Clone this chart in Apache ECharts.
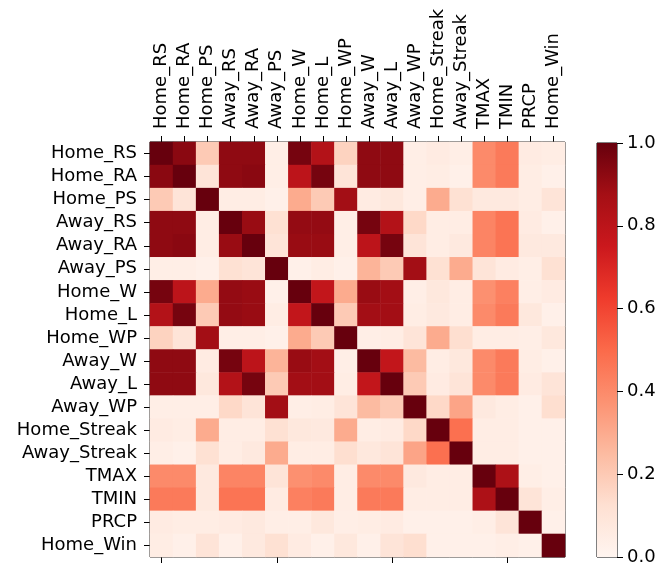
<!DOCTYPE html>
<html>
<head>
<meta charset="utf-8">
<script src="https://cdn.jsdelivr.net/npm/echarts@6/dist/echarts.min.js"></script>
<style>
  html, body { margin: 0; padding: 0; background: #fff; }
  #chart { width: 661px; height: 570px; }
</style>
</head>
<body>
<div id="chart"></div>
<script>
const labels = ['Home_RS', 'Home_RA', 'Home_PS', 'Away_RS', 'Away_RA', 'Away_PS', 'Home_W', 'Home_L', 'Home_WP',
  'Away_W', 'Away_L', 'Away_WP', 'Home_Streak', 'Away_Streak', 'TMAX', 'TMIN', 'PRCP', 'Home_Win']

// correlation rows, same order as labels
const rowHomeRS = [1.00, 0.93, 0.20, 0.92, 0.92, 0.04, 0.97, 0.83, 0.17, 0.92, 0.92, 0.04, 0.06, 0.04, 0.40, 0.45, 0.06, 0.05]
const rowHomeRA = [0.93, 1.00, 0.10, 0.92, 0.93, 0.04, 0.80, 0.97, 0.10, 0.92, 0.92, 0.04, 0.05, 0.03, 0.40, 0.45, 0.05, 0.03]
const rowHomePS = [0.20, 0.10, 1.00, 0.05, 0.05, 0.03, 0.30, 0.20, 0.88, 0.06, 0.08, 0.04, 0.30, 0.12, 0.07, 0.07, 0.05, 0.10]
const rowAwayRS = [0.92, 0.92, 0.05, 1.00, 0.90, 0.12, 0.91, 0.91, 0.04, 0.97, 0.83, 0.15, 0.05, 0.05, 0.42, 0.47, 0.06, 0.03]
const rowAwayRA = [0.92, 0.93, 0.05, 0.90, 1.00, 0.10, 0.90, 0.90, 0.04, 0.80, 0.97, 0.10, 0.05, 0.07, 0.42, 0.47, 0.07, 0.07]
const rowAwayPS = [0.04, 0.04, 0.03, 0.12, 0.10, 1.00, 0.03, 0.05, 0.03, 0.27, 0.20, 0.88, 0.12, 0.30, 0.10, 0.06, 0.04, 0.12]
const rowHomeW = [0.97, 0.80, 0.30, 0.91, 0.90, 0.03, 1.00, 0.78, 0.30, 0.90, 0.88, 0.04, 0.08, 0.05, 0.38, 0.43, 0.04, 0.06]
const rowHomeL = [0.83, 0.97, 0.20, 0.91, 0.90, 0.05, 0.78, 1.00, 0.20, 0.88, 0.88, 0.05, 0.07, 0.05, 0.40, 0.45, 0.08, 0.03]
const rowHomeWP = [0.17, 0.10, 0.88, 0.04, 0.04, 0.03, 0.30, 0.20, 1.00, 0.04, 0.05, 0.10, 0.30, 0.13, 0.05, 0.05, 0.04, 0.08]
const rowAwayW = [0.92, 0.92, 0.06, 0.97, 0.80, 0.27, 0.90, 0.88, 0.04, 1.00, 0.78, 0.25, 0.05, 0.08, 0.40, 0.45, 0.05, 0.03]
const rowAwayL = [0.92, 0.92, 0.08, 0.83, 0.97, 0.20, 0.88, 0.88, 0.05, 0.78, 1.00, 0.20, 0.06, 0.10, 0.40, 0.45, 0.06, 0.10]
const rowAwayWP = [0.04, 0.04, 0.04, 0.15, 0.10, 0.88, 0.04, 0.05, 0.10, 0.25, 0.20, 1.00, 0.15, 0.32, 0.07, 0.05, 0.03, 0.13]
const rowHomeStreak = [0.06, 0.05, 0.30, 0.05, 0.05, 0.12, 0.08, 0.07, 0.30, 0.05, 0.06, 0.15, 1.00, 0.48, 0.05, 0.05, 0.03, 0.03]
const rowAwayStreak = [0.04, 0.03, 0.12, 0.05, 0.07, 0.30, 0.05, 0.05, 0.13, 0.08, 0.10, 0.32, 0.48, 1.00, 0.05, 0.05, 0.03, 0.03]
const rowTMAX = [0.40, 0.40, 0.07, 0.42, 0.42, 0.10, 0.38, 0.40, 0.05, 0.40, 0.40, 0.07, 0.05, 0.05, 1.00, 0.85, 0.04, 0.03]
const rowTMIN = [0.45, 0.45, 0.07, 0.47, 0.47, 0.06, 0.43, 0.45, 0.05, 0.45, 0.45, 0.05, 0.05, 0.05, 0.85, 1.00, 0.10, 0.04]
const rowPRCP = [0.06, 0.05, 0.05, 0.06, 0.07, 0.04, 0.04, 0.08, 0.04, 0.05, 0.06, 0.03, 0.03, 0.03, 0.04, 0.10, 1.00, 0.03]
const rowHomeWin = [0.05, 0.03, 0.10, 0.03, 0.07, 0.12, 0.06, 0.03, 0.08, 0.03, 0.10, 0.13, 0.03, 0.03, 0.03, 0.04, 0.03, 1.00]

const corrRows = [rowHomeRS, rowHomeRA, rowHomePS, rowAwayRS, rowAwayRA, rowAwayPS, rowHomeW, rowHomeL, rowHomeWP,
  rowAwayW, rowAwayL, rowAwayWP, rowHomeStreak, rowAwayStreak, rowTMAX, rowTMIN, rowPRCP, rowHomeWin]

const colorbarTicks = [0, 0.2, 0.4, 0.6, 0.8, 1.0]

// matplotlib 'Reds'
const reds = ['#fff5f0', '#fee0d2', '#fcbba1', '#fc9272', '#fb6a4a', '#ef3b2c', '#cb181d', '#a50f15', '#67000d']

const cells = []
corrRows.forEach((row, y) => {
  row.forEach((v, x) => {
    cells.push([x, y, v])
  })
})

const font = 'DejaVu Sans'
const fs = 18
const tickStyle = { show: true, length: 6, alignWithLabel: true, lineStyle: { color: '#000', width: 1 } }
const chart = echarts.init(document.getElementById('chart'))
chart.setOption({
  backgroundColor: '#fff',
  animation: false,
  textStyle: { fontFamily: font },
  grid: [
    { left: 150, top: 142, width: 415, height: 415, show: true, borderColor: '#000', borderWidth: 1, backgroundColor: 'transparent' },
    { left: 597, top: 143, width: 20, height: 414, show: true, borderColor: '#000', borderWidth: 1, backgroundColor: 'transparent' }
  ],
  xAxis: [
    {
      type: 'category', gridIndex: 0, data: labels, position: 'top',
      axisLine: { show: false },
      axisTick: tickStyle,
      axisLabel: { rotate: -90, fontSize: fs, color: '#000', margin: 13, interval: 0, fontFamily: font },
      splitLine: { show: false }
    },
    {
      type: 'category', gridIndex: 0, data: labels, position: 'bottom',
      axisLine: { show: false },
      axisTick: tickStyle,
      axisLabel: { show: false },
      splitLine: { show: false }
    },
    {
      type: 'category', gridIndex: 1, data: ['bar'],
      show: false
    }
  ],
  yAxis: [
    {
      type: 'category', gridIndex: 0, data: labels, inverse: true,
      axisLine: { show: false },
      axisTick: tickStyle,
      axisLabel: { fontSize: fs, color: '#000', margin: 13, interval: 0, fontFamily: font },
      splitLine: { show: false }
    },
    {
      type: 'value', gridIndex: 1, min: 0, max: 1, interval: 0.2, position: 'right',
      axisLine: { show: false },
      axisTick: { show: true, length: 6, lineStyle: { color: '#000' } },
      axisLabel: { fontSize: fs, color: '#000', margin: 10, fontFamily: font, formatter: v => v.toFixed(1) },
      splitLine: { show: false }
    }
  ],
  visualMap: {
    show: false,
    seriesIndex: 0,
    min: 0,
    max: 1,
    inRange: { color: reds }
  },
  series: [
    {
      type: 'heatmap',
      xAxisIndex: 0,
      yAxisIndex: 0,
      data: cells,
      itemStyle: { borderWidth: 0 },
      emphasis: { disabled: true }
    },
    {
      // colorbar
      type: 'bar',
      xAxisIndex: 2,
      yAxisIndex: 1,
      data: [colorbarTicks[colorbarTicks.length - 1]],
      barWidth: '100%',
      silent: true,
      itemStyle: {
        color: new echarts.graphic.LinearGradient(0, 1, 0, 0,
          reds.map((c, i) => ({ offset: i / (reds.length - 1), color: c })))
      }
    }
  ]
})
</script>
</body>
</html>
